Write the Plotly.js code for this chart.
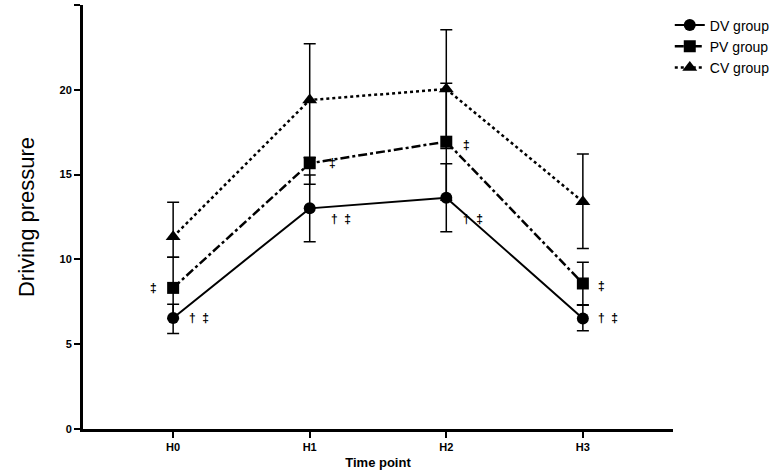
<!DOCTYPE html>
<html>
<head>
<meta charset="utf-8">
<script src="https://cdn.plot.ly/plotly-3.0.1.min.js"></script>
<style>
  html, body { margin: 0; padding: 0; background: #fff; }
  #chart { width: 777px; height: 473px; }
</style>
</head>
<body>
<div id="chart"></div>
<script>
// Time points on the x axis
const timePoints = ['H0', 'H1', 'H2', 'H3'];

// Group means and error bars (upper / lower)
const dvMean = [6.55, 13.01, 13.64, 6.52];
const dvErrPlus = [0.81, 1.97, 2.0, 0.78];
const dvErrMinus = [0.92, 1.97, 2.01, 0.73];

const pvMean = [8.32, 15.67, 16.94, 8.58];
const pvErrPlus = [1.8, 0.35, 3.45, 1.25];
const pvErrMinus = [1.8, 1.24, 3.45, 1.25];

const cvMean = [11.33, 19.40, 20.04, 13.40];
const cvErrPlus = [2.04, 3.31, 3.5, 2.82];
const cvErrMinus = [1.21, 3.4, 3.5, 2.75];

// Significance marks next to the points
const dvMarks = ['†  ‡', '†  ‡', '†  ‡', '†  ‡'];
const pvMarks = ['‡', '‡', '‡', '‡'];

const FONT = 'Liberation Sans, Arial, sans-serif';

function groupTrace(name, y, plus, minus, symbol, dash, width) {
  return {
    x: timePoints,
    y: y,
    name: name,
    type: 'scatter',
    mode: 'lines+markers',
    line: { color: '#000', width: width, dash: dash },
    marker: { color: '#000', size: symbol === 'triangle-up' ? 13 : 12, symbol: symbol },
    error_y: {
      type: 'data',
      symmetric: false,
      array: plus,
      arrayminus: minus,
      color: '#000',
      thickness: 1.5,
      width: 6
    },
    cliponaxis: false
  };
}

const traces = [
  groupTrace('DV group', dvMean, dvErrPlus, dvErrMinus, 'circle', 'solid', 2),
  groupTrace('PV group', pvMean, pvErrPlus, pvErrMinus, 'square', 'dashdot', 2.5),
  groupTrace('CV group', cvMean, cvErrPlus, cvErrMinus, 'triangle-up', 'dot', 2.5)
];

// pixel offsets of the marks from their points
const dvShift = [[26, 0], [31, -11], [27, -21], [25, 0]];
const pvShift = [[-20, 0], [23, 0], [20, -3], [19, -3]];

const markFont = { family: FONT, size: 12, color: '#000', weight: 'bold' };
const annotations = [];
dvMarks.forEach((t, i) => {
  annotations.push({
    x: timePoints[i], y: dvMean[i], text: t, showarrow: false,
    xshift: dvShift[i][0], yshift: dvShift[i][1], font: markFont
  });
});
pvMarks.forEach((t, i) => {
  annotations.push({
    x: timePoints[i], y: pvMean[i], text: t, showarrow: false,
    xshift: pvShift[i][0], yshift: pvShift[i][1], font: markFont
  });
});

const layout = {
  width: 777,
  height: 473,
  paper_bgcolor: '#fff',
  plot_bgcolor: '#fff',
  font: { family: FONT, color: '#000' },
  showlegend: true,
  legend: {
    xref: 'container', yref: 'container',
    x: 0.862, xanchor: 'left',
    y: 0.98, yanchor: 'top',
    font: { family: FONT, size: 14, color: '#000' },
    bgcolor: 'rgba(0,0,0,0)',
    tracegroupgap: 0,
    itemwidth: 30
  },
  margin: { l: 83, r: 104, t: 5, b: 44, autoexpand: false },
  xaxis: {
    type: 'category',
    range: [-0.66, 3.66],
    showgrid: false,
    zeroline: false,
    showline: true,
    linecolor: '#000',
    linewidth: 3,
    ticks: 'outside',
    ticklen: 6,
    tickwidth: 2,
    tickcolor: '#000',
    tickfont: { family: FONT, size: 11, color: '#000', weight: 'bold' },
    title: { text: 'Time point', font: { family: FONT, size: 13, color: '#000', weight: 'bold' }, standoff: 6 }
  },
  yaxis: {
    range: [0, 25],
    dtick: 5,
    showgrid: false,
    zeroline: false,
    showline: true,
    linecolor: '#000',
    linewidth: 3,
    ticks: 'outside',
    ticklen: 6,
    tickwidth: 2,
    tickcolor: '#000',
    tickfont: { family: FONT, size: 11, color: '#000', weight: 'bold' },
    title: { text: 'Driving pressure', font: { family: FONT, size: 22, color: '#000' }, standoff: 19 }
  },
  annotations: annotations
};

Plotly.newPlot('chart', traces, layout, { displayModeBar: false, staticPlot: true });
</script>
</body>
</html>
